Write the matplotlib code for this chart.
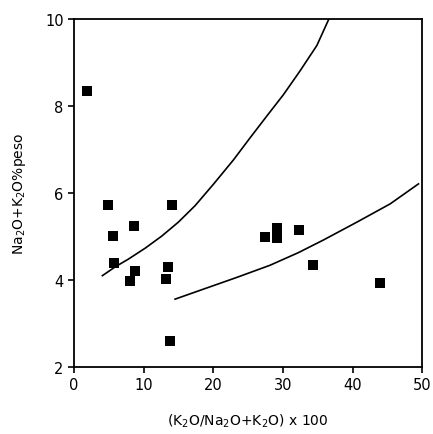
import matplotlib
matplotlib.use('Agg')
import matplotlib.pyplot as plt

# sample points
ratio_k = [1.9, 4.9, 5.6, 5.7, 8.6, 8.8, 8.0, 14.1, 13.5, 13.2, 13.8,
           27.4, 29.2, 29.2, 32.3, 34.3, 44.0]
alkali = [8.34, 5.72, 5.01, 4.39, 5.24, 4.20, 3.97, 5.72, 4.30, 4.02, 2.60,
          4.99, 5.20, 4.97, 5.15, 4.34, 3.93]

# boundary curves
upper_x = [4.07, 5.89, 7.80, 10.20, 12.60, 14.98, 17.39, 20.01, 22.89,
           25.29, 27.69, 30.07, 32.47, 34.87, 36.6]
upper_y = [4.10, 4.30, 4.48, 4.73, 5.01, 5.33, 5.71, 6.20, 6.76,
           7.27, 7.77, 8.26, 8.81, 9.39, 10.0]
lower_x = [14.51, 18.58, 23.38, 28.16, 32.23, 35.82, 40.62, 45.40, 49.47]
lower_y = [3.56, 3.79, 4.06, 4.34, 4.63, 4.92, 5.33, 5.75, 6.21]

xticks = [0, 10, 20, 30, 40, 50]
yticks = [2, 4, 6, 8, 10]

fig = plt.figure(figsize=(4.33, 4.35), dpi=100)
ax = fig.add_axes([0.171, 0.154, 0.804, 0.800])

ax.plot(upper_x, upper_y, color='black', lw=1.2)
ax.plot(lower_x, lower_y, color='black', lw=1.2)
ax.plot(ratio_k, alkali, 's', color='black', markersize=7.5, markeredgewidth=0)

ax.set_xlim(0, 50)
ax.set_ylim(2, 10)
ax.set_xticks(xticks)
ax.set_yticks(yticks)
ax.tick_params(direction='out', length=4, width=1.2, labelsize=10.5)
for s in ax.spines.values():
    s.set_linewidth(1.3)

ax.set_ylabel(r'Na$_2$O+K$_2$O%peso', fontsize=10, labelpad=12)
ax.set_xlabel(r'(K$_2$O/Na$_2$O+K$_2$O) x 100', fontsize=10, labelpad=14)

plt.savefig('out.png', dpi=100)
plt.close()
